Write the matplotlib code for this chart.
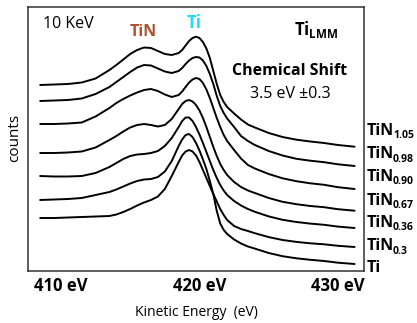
import numpy as np
import matplotlib
matplotlib.use("Agg")
import matplotlib.pyplot as plt

plt.rcParams['font.family'] = ['Open Sans', 'DejaVu Sans']
plt.rcParams['mathtext.fontset'] = 'custom'
plt.rcParams['mathtext.rm'] = 'Open Sans'
plt.rcParams['mathtext.bf'] = 'Open Sans:bold'

# kinetic energy grid (eV)
energy = [408.5, 409.5, 410.5, 411.5, 412.5, 413.5, 414, 414.5, 415, 415.5,
          416, 416.5, 417, 417.5, 418, 418.5, 418.75, 419, 419.25, 419.5,
          419.75, 420, 420.25, 420.5, 420.75, 421, 421.25, 421.5, 421.75, 422,
          422.5, 423, 423.5, 424, 425, 426, 427, 428, 429, 430, 431.2]

# offset spectra (arbitrary counts), top to bottom
tin_105 = [215, 215.5, 216, 217.5, 221.5, 230, 235, 240.5, 246, 250,
           252.5, 252, 249, 246, 245, 247, 250, 254.5, 259, 262,
           263.3, 262, 258, 251.5, 242, 229, 216, 205, 198, 193,
           186.5, 180.5, 175.5, 172.5, 167, 163, 160.3, 158.5, 157, 155, 153.3]
tin_098 = [199, 199.5, 200, 201.5, 206, 213, 218, 223, 228, 232.5,
           235, 234.5, 231.5, 228.5, 227, 229, 232, 236, 239.5, 242,
           243, 242.5, 239.5, 234, 226, 216, 204, 194, 187, 181.5,
           173, 164, 159, 155, 149, 144.5, 141.2, 139.3, 137.8, 135.7, 134]
tin_090 = [176, 176, 176.5, 177.5, 183.5, 192, 197, 201, 204.5, 207.5,
           210, 211, 209, 205.5, 203, 205, 208.5, 213, 217.5, 220.5,
           222, 221, 217, 210.5, 202, 192, 182, 173, 165, 159,
           150, 141.5, 135, 131.5, 126, 121.7, 118.8, 116.7, 115.2, 112.8, 111]
tin_067 = [147, 147, 147.5, 148.5, 152.5, 160, 164, 168.5, 172.5, 175,
           176, 175, 173.5, 175, 181, 191, 196, 199, 200, 198.5,
           195, 189.5, 182, 173, 163, 153, 144, 136, 130, 125,
           118, 113, 109.5, 107, 102, 98.2, 95.8, 94, 92.8, 90.8, 89.3]
tin_036 = [124, 123.5, 123.5, 124, 127, 133, 137, 141, 144, 145.5,
           146, 147, 149, 154, 162, 173, 179, 182.5, 182.5, 179,
           173, 165.5, 157, 148, 139, 130, 122, 115, 109.5, 105,
           99, 94.5, 91, 88.2, 83.6, 80.2, 78, 76.4, 75.2, 73.4, 72]
ti_metal = [100, 100.5, 101, 102, 105, 108, 110.5, 113.5, 116.5, 119,
            120.5, 121, 123, 128.5, 139, 154, 160.5, 165, 166, 163,
            157, 149.5, 140.5, 131, 119, 106, 89, 76.5, 70, 66,
            60.5, 56.5, 53.5, 51.4, 47, 43.8, 41.7, 40.2, 39, 37.3, 36]
tin_03 = [82, 82, 82.5, 83, 83.5, 84, 85.5, 88, 91, 94.5,
          97.5, 100, 103.5, 111, 124, 138, 144.5, 148.5, 150, 148.5,
          144.5, 138, 130, 122, 114, 106, 98.5, 91, 85, 80,
          74, 71, 69, 66.8, 62.9, 60, 58.1, 56.7, 55.7, 54.2, 53]

spectra = [tin_105, tin_098, tin_090, tin_067, tin_036, tin_03, ti_metal]
labels = ['1.05', '0.98', '0.90', '0.67', '0.36', '0.3']
ticks = [410, 420, 430]

W, H = 417, 323
fig = plt.figure(figsize=(W / 100, H / 100), dpi=100)
ax = fig.add_axes([28 / W, 1 - 270.5 / H, 336 / W, 263.5 / H])

for s in spectra:
    ax.plot(energy, s, color='black', lw=1.4, solid_capstyle='round')

ax.set_xlim(407.62, 431.88)
ax.set_ylim(29.5, 293)
ax.set_yticks([])
ax.set_xticks(ticks)
ax.set_xticklabels([f"{t} eV" for t in ticks], fontsize=12, fontweight='bold')
ax.tick_params(axis='x', length=0, pad=5)
for sp in ax.spines.values():
    sp.set_color('#333333')
    sp.set_linewidth(1.1)

ax.set_xlabel("Kinetic Energy  (eV)", fontsize=10)
ax.xaxis.set_label_coords(0.5, (270.5 - 313) / 263.5)
ax.xaxis.label.set_va('center')
fig.text(15 / W, 1 - 138 / H, "counts", rotation=90, fontsize=11,
         ha='center', va='center')


def ftext(x, y, s, **kw):
    fig.text(x / W, 1 - y / H, s, **kw)


ftext(43, 24, "10 KeV", fontsize=11.5, ha='left', va='center')
ftext(143, 32, "TiN", fontsize=11.5, fontweight='bold', color='#b0502a',
      ha='center', va='center')
ftext(194, 23, "Ti", fontsize=12, fontweight='bold', color='#1fdcf0',
      ha='center', va='center')
ftext(294, 30, r"$\mathbf{Ti_{LMM}}$", fontsize=12, ha='left', va='center')
ftext(290, 71, "Chemical Shift", fontsize=11.5, fontweight='bold',
      ha='center', va='center')
ftext(290, 94, "3.5 eV \u00b10.3", fontsize=11.5, ha='center', va='center')

label_y = [131, 154, 177, 201, 223, 246]
for lab, yy in zip(labels, label_y):
    ftext(367, yy, "TiN", fontsize=11.5, fontweight='bold',
          ha='left', va='center')
    ftext(393, yy + 5, lab, fontsize=7.5, fontweight='bold',
          ha='left', va='center')
ftext(367, 268, "Ti", fontsize=11.5, fontweight='bold', ha='left', va='center')

fig.savefig("out.png", dpi=100)
